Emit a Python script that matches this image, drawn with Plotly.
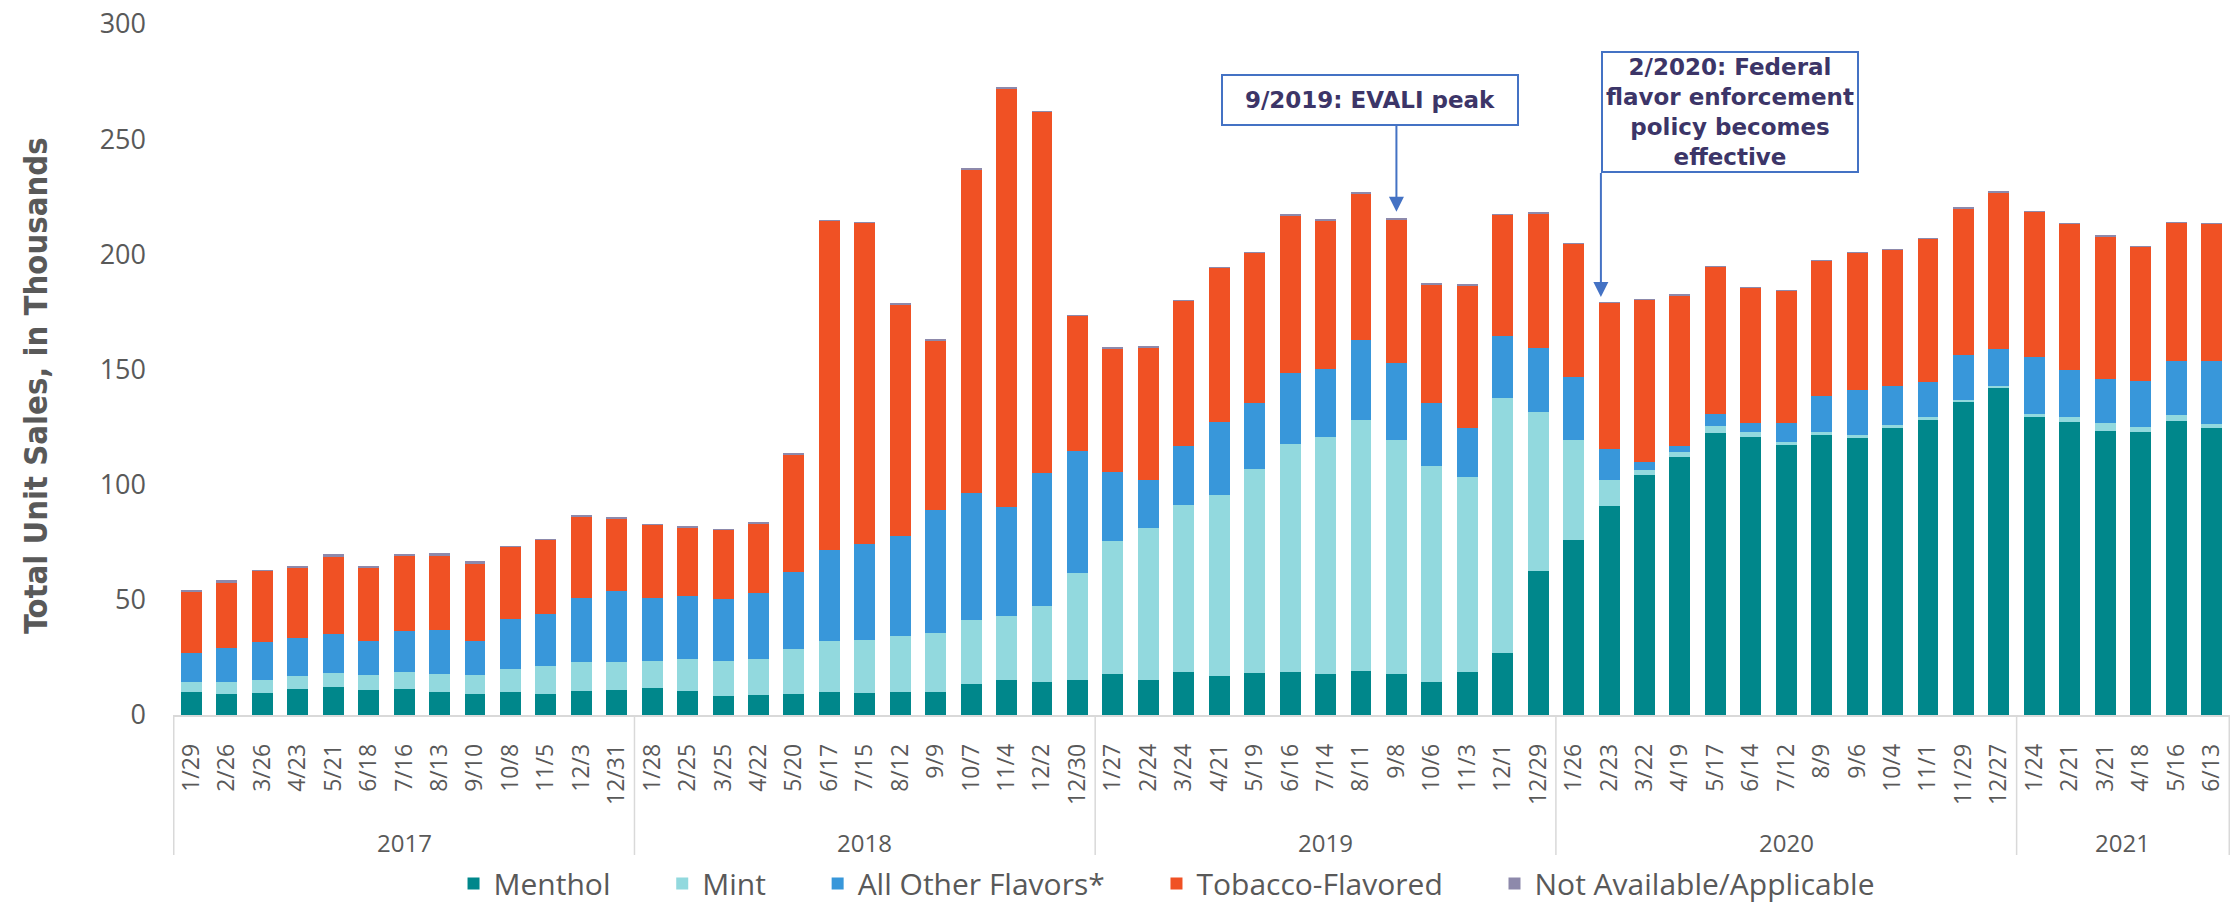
import plotly.graph_objects as go

# ---------------- data ----------------
years = ["2017"] * 13 + ["2018"] * 13 + ["2019"] * 13 + ["2020"] * 13 + ["2021"] * 6
dates = [
    "1/29", "2/26", "3/26", "4/23", "5/21", "6/18", "7/16", "8/13", "9/10", "10/8", "11/5", "12/3", "12/31",
    "1/28", "2/25", "3/25", "4/22", "5/20", "6/17", "7/15", "8/12", "9/9", "10/7", "11/4", "12/2", "12/30",
    "1/27", "2/24", "3/24", "4/21", "5/19", "6/16", "7/14", "8/11", "9/8", "10/6", "11/3", "12/1", "12/29",
    "1/26", "2/23", "3/22", "4/19", "5/17", "6/14", "7/12", "8/9", "9/6", "10/4", "11/1", "11/29", "12/27",
    "1/24", "2/21", "3/21", "4/18", "5/16", "6/13",
]

menthol = [10, 9.3, 9.5, 11.3, 12.3, 10.8, 11.5, 9.8, 9, 10, 9.3, 10.3, 11,
           11.8, 10.5, 8.3, 8.9, 9.3, 10.2, 9.5, 10, 10.2, 13.3, 15.2, 14.2, 15,
           17.6, 15, 18.6, 16.9, 18.2, 18.6, 18, 19.3, 17.6, 14.2, 18.6, 26.9, 62.5,
           76.1, 90.9, 104, 112.1, 122.5, 120.6, 117.4, 121.6, 120.3, 124.6, 128.2, 136.2, 142.2,
           129.2, 127.3, 123.5, 122.9, 127.5, 124.6]

mint = [4.5, 5.2, 5.5, 5.5, 6, 6.7, 7, 8.2, 8.5, 10, 12, 12.7, 12,
        11.5, 14, 15, 15.5, 19.3, 21.8, 22.9, 24.5, 25.6, 28, 28, 33, 46.7,
        58, 66.4, 72.5, 78.4, 88.4, 99, 102.8, 108.7, 101.9, 93.8, 84.6, 110.6, 69.1,
        43.4, 11.2, 2.4, 2.3, 2.9, 2.1, 1.2, 1.1, 1.3, 1.2, 1.0, 0.7, 0.6,
        1.5, 1.9, 3.2, 2.3, 2.8, 1.9]

other = [12.5, 14.8, 16.5, 16.5, 16.7, 14.7, 18, 18.7, 14.5, 21.5, 22.7, 28, 31,
         27.5, 27, 27.1, 28.6, 33.5, 39.6, 41.8, 43.3, 53, 55.3, 47, 57.7, 52.9,
         30.1, 20.7, 25.8, 32, 29, 30.9, 29.6, 34.9, 33.3, 27.6, 21.4, 27.1, 27.9,
         27.3, 13.4, 3.3, 2.5, 5.3, 4.2, 8.3, 15.6, 19.5, 17.2, 15.5, 19.2, 15.9,
         24.6, 20.6, 19.3, 19.7, 23.3, 27.1]

tobacco = [26.2, 28.2, 31.2, 30.8, 33.7, 32, 32.7, 32.5, 33.7, 31.5, 32.2, 35.2, 31.5,
           31.7, 29.7, 30.1, 30.3, 51.2, 143, 139.5, 100.5, 74, 140, 182, 157, 58.8,
           53.6, 57.2, 63, 67, 65, 68.2, 64.2, 63.7, 62.5, 51.4, 62, 52.5, 58.4,
           57.8, 63.6, 70.7, 65.4, 64, 58.7, 57.2, 59, 59.8, 59.1, 62, 64, 68.3,
           63.4, 63.5, 61.9, 58.5, 60.2, 59.8]

na = [1, 1, 0.2, 0.7, 1, 0.2, 0.3, 1, 1, 0.3, 0.2, 0.2, 0.2,
      0.2, 1, 0.2, 0.2, 0.2, 0.2, 0.2, 0.2, 0.2, 1, 0.2, 0.2, 0.2,
      0.2, 0.9, 0.2, 0.2, 0.2, 0.8, 0.9, 0.2, 0.2, 0.2, 0.2, 0.2, 0.2,
      0.1, 0.1, 0.1, 0.1, 0.1, 0.1, 0.1, 0.1, 0.1, 0.1, 0.1, 0.1, 0.1,
      0.1, 0.1, 0.1, 0.1, 0.1, 0.1]

series_names = ["Menthol", "Mint", "All Other Flavors*", "Tobacco-Flavored", "Not Available/Applicable"]
series_values = [menthol, mint, other, tobacco, na]
series_colors = ["#00878B", "#92D9DE", "#3897DA", "#F05124", "#8D89AB"]

y_ticks = [0, 50, 100, 150, 200, 250, 300]

# ---------------- figure ----------------
GRAY = "#595959"
TICKFONT = "Open Sans, Noto Sans, sans-serif"
PAD = "\u00a0" * 6  # extra spacing between legend entries

fig = go.Figure()
for i, (name, vals, col) in enumerate(zip(series_names, series_values, series_colors)):
    label = name + (PAD if i < len(series_names) - 1 else "")
    fig.add_trace(go.Bar(x=dates, y=vals, name=label, marker=dict(color=col, line=dict(width=0))))

# year group labels and dividers (positions from the category indices)
year_order = []
for y in years:
    if y not in year_order:
        year_order.append(y)
start = 0
boundaries = [-0.5]
for yr in year_order:
    n = years.count(yr)
    center = start + (n - 1) / 2
    fig.add_annotation(x=center, y=-0.185, xref="x", yref="paper", text=yr, showarrow=False,
                       font=dict(family=TICKFONT, size=24, color=GRAY), yanchor="middle")
    start += n
    boundaries.append(start - 0.5)
for b in boundaries:
    fig.add_shape(type="line", xref="x", yref="paper", x0=b, x1=b, y0=0, y1=-0.2026,
                  line=dict(color="#D9D9D9", width=1.5))

# y-axis title
fig.add_annotation(x=-0.0666, y=0.476, xref="paper", yref="paper", text="<b>Total Unit Sales, in Thousands</b>",
                   textangle=-90, showarrow=False, xanchor="center", yanchor="middle",
                   font=dict(family="DejaVu Sans Condensed, DejaVu Sans, sans-serif", size=32.5, color=GRAY))

ANN_COLOR = "#3C3568"
BOX_COLOR = "#4472C4"
ANN_FONT = dict(family="DejaVu Sans, Verdana, sans-serif", size=23, color=ANN_COLOR)

# EVALI annotation box + arrow
fig.add_annotation(x=33.26, y=267, xref="x", yref="y", text="<b>9/2019: EVALI peak</b>", showarrow=False,
                   font=ANN_FONT, bordercolor=BOX_COLOR, borderwidth=2, borderpad=2, bgcolor="white",
                   width=290, height=44, xanchor="center", yanchor="middle")
fig.add_annotation(x=34.0, y=218.5, ax=34.0, ay=256.5, xref="x", yref="y", axref="x", ayref="y",
                   text="", showarrow=True, arrowhead=2, arrowsize=1.5, arrowwidth=2, arrowcolor=BOX_COLOR)

# Federal policy annotation box + arrow
fig.add_annotation(x=43.42, y=262, xref="x", yref="y",
                   text="<b>2/2020: Federal<br>flavor enforcement<br>policy becomes<br>effective</b>",
                   showarrow=False, font=ANN_FONT, bordercolor=BOX_COLOR, borderwidth=2, borderpad=0,
                   bgcolor="white", width=254, height=118, xanchor="center", yanchor="middle")
fig.add_annotation(x=39.77, y=181.5, ax=39.77, ay=236, xref="x", yref="y", axref="x", ayref="y",
                   text="", showarrow=True, arrowhead=2, arrowsize=1.5, arrowwidth=2, arrowcolor=BOX_COLOR)

fig.update_layout(
    barmode="stack",
    bargap=0.41,
    width=2234,
    height=903,
    margin=dict(l=173, r=4, t=24, b=188, autoexpand=False),
    plot_bgcolor="white",
    paper_bgcolor="white",
    showlegend=True,
    legend=dict(orientation="h", x=0.483, xanchor="center", y=-0.244, yanchor="middle",
                font=dict(family=TICKFONT, size=30, color=GRAY), traceorder="normal",
                bgcolor="rgba(0,0,0,0)"),
    xaxis=dict(type="category", tickangle=-90, showgrid=False, showline=True, linecolor="#D9D9D9",
               linewidth=1.5, ticks="", tickfont=dict(family=TICKFONT, size=23, color=GRAY),
               ticklabelstandoff=18, automargin=False),
    yaxis=dict(range=[0, 300], tickvals=y_ticks, showgrid=False, showline=False, zeroline=False,
               ticks="", tickfont=dict(family=TICKFONT, size=27, color=GRAY),
               ticklabelstandoff=26, automargin=False),
)

fig.write_html("out.html", config={"displayModeBar": False},
               post_script="document.body.style.margin='0';")
